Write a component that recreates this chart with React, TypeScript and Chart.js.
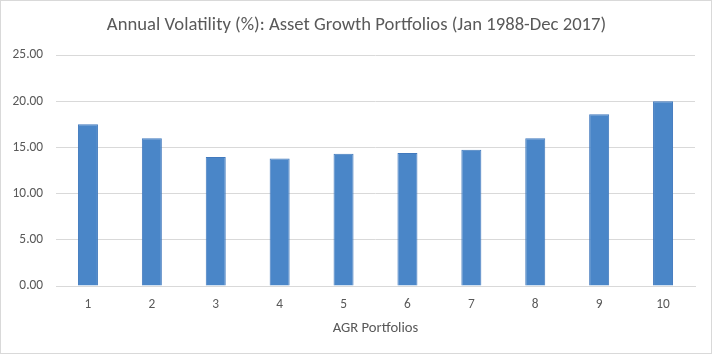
import React, { useEffect, useRef } from "react";
import { Chart, registerables } from "chart.js";

Chart.register(...registerables);

const categories = ["1", "2", "3", "4", "5", "6", "7", "8", "9", "10"];
const volatility = [17.5, 16.0, 13.95, 13.8, 14.3, 14.4, 14.75, 16.0, 18.6, 20.0];
const yTicks = [0, 5, 10, 15, 20, 25];
const chartTitle = "Annual Volatility (%): Asset Growth Portfolios (Jan 1988-Dec 2017)";
const xTitle = "AGR Portfolios";

const FONT = "Carlito, Lato, 'Open Sans', sans-serif";
const TEXT = "#595959";
const GRID = "#d9d9d9";

export default function App() {
  const ref = useRef<HTMLCanvasElement | null>(null);

  useEffect(() => {
    document.body.style.margin = "0";
    const canvas = ref.current;
    if (!canvas) return;
    const chart = new Chart(canvas, {
      type: "bar",
      data: {
        labels: categories,
        datasets: [
          {
            label: "Annual Volatility",
            data: volatility,
            backgroundColor: "#4a86c8",
            borderColor: "#4179bd",
            borderWidth: 1,
            categoryPercentage: 1,
            barPercentage: 0.313,
          },
        ],
      },
      options: {
        animation: false,
        responsive: false,
        maintainAspectRatio: false,
        layout: { padding: { left: 0, right: 0, top: 0, bottom: 0 } },
        plugins: {
          legend: { display: false },
          tooltip: { enabled: false },
          title: {
            display: true,
            text: chartTitle,
            color: TEXT,
            font: { family: FONT, size: 18.67, weight: "normal" },
            padding: { top: 14, bottom: 18.6 },
          },
        },
        scales: {
          x: {
            grid: { display: false, drawTicks: false },
            border: { display: true, color: GRID, width: 1 },
            ticks: {
              color: TEXT,
              font: { family: FONT, size: 13.33 },
              padding: 10.5,
            },
            title: {
              display: true,
              text: xTitle,
              color: TEXT,
              font: { family: FONT, size: 14.67 },
              padding: { top: 0, bottom: 20 },
            },
            afterFit: (scale: any) => {
              scale.height = 71;
            },
          },
          y: {
            min: 0,
            max: 25,
            afterBuildTicks: (scale: any) => {
              scale.ticks = yTicks.map((v) => ({ value: v }));
            },
            grid: { color: GRID, lineWidth: 1, drawTicks: false },
            border: { display: false },
            ticks: {
              color: TEXT,
              font: { family: FONT, size: 13.33 },
              padding: 13,
              callback: (v: any) => Number(v).toFixed(2),
            },
            afterFit: (scale: any) => {
              scale.width = 56;
            },
          },
          yRight: {
            position: "right",
            display: true,
            min: 0,
            max: 25,
            grid: { display: false, drawTicks: false },
            border: { display: false },
            ticks: { display: false },
            afterFit: (scale: any) => {
              scale.width = 18;
            },
          },
        },
      },
    });
    return () => chart.destroy();
  }, []);

  return (
    <div style={{ position: "relative", width: 713, height: 357, background: "#fff" }}>
      <div
        style={{
          position: "absolute",
          left: 0,
          top: 0,
          width: 712,
          height: 354,
          border: "1px solid #d9d9d9",
          boxSizing: "border-box",
        }}
      />
      <canvas ref={ref} width={713} height={357} style={{ position: "absolute", left: 0, top: 0 }} />
    </div>
  );
}
